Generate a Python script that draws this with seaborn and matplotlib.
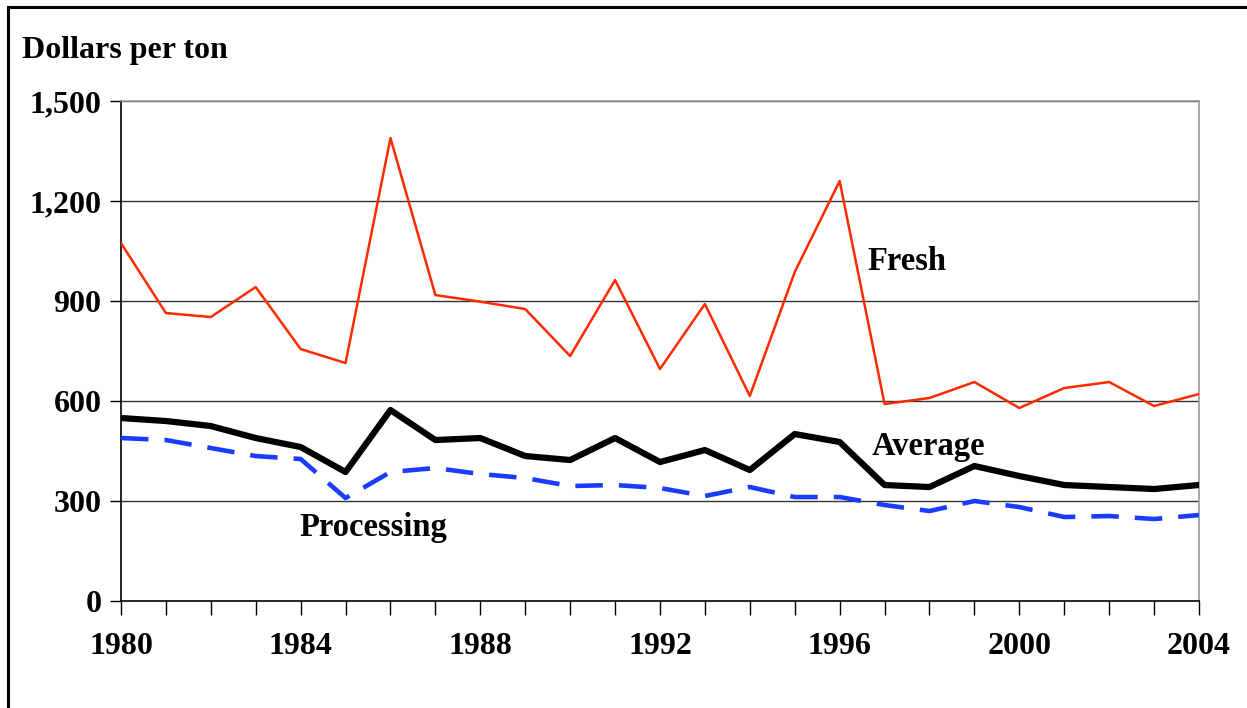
import matplotlib
matplotlib.use("Agg")
import matplotlib.pyplot as plt
import matplotlib.patches as mpatches
import pandas as pd
import seaborn as sb

years = list(range(1980, 2005))
fresh = [1074, 864, 852, 942, 756, 714, 1389, 918, 898, 876, 735, 963, 696, 891,
         615, 987, 1260, 591, 609, 657, 579, 639, 657, 585, 621]
average = [549, 540, 525, 489, 462, 387, 573, 483, 489, 435, 423, 489, 417, 453,
           393, 501, 477, 348, 342, 405, 375, 348, 342, 336, 348]
processing = [489, 483, 459, 435, 426, 309, 387, 399, 381, 369, 345, 348, 339, 315,
              342, 312, 312, 288, 270, 300, 282, 252, 255, 246, 258]

df = pd.DataFrame({"year": years, "Fresh": fresh, "Average": average, "Processing": processing})

sb.set_style("ticks")
plt.rcParams["font.family"] = ["Liberation Serif", "DejaVu Serif"]
plt.rcParams["font.weight"] = "bold"
plt.rcParams["text.color"] = "black"
plt.rcParams["xtick.color"] = "black"
plt.rcParams["ytick.color"] = "black"

fig = plt.figure(figsize=(12.47, 7.08), dpi=100)
ax = fig.add_axes([0.097, 0.1511, 0.8645, 0.7062])

# grid lines
for v in [300, 600, 900, 1200, 1500]:
    ax.axhline(v, color="#333333", lw=1.0, zorder=1)

sb.lineplot(data=df, x="year", y="Fresh", color="#FF2A00", lw=1.8, ax=ax, zorder=3)
sb.lineplot(data=df, x="year", y="Processing", color="#1A3CFF", lw=3.3, ax=ax, zorder=3)
ax.lines[-1].set_linestyle((0, (6, 3.5)))
sb.lineplot(data=df, x="year", y="Average", color="black", lw=4.5, ax=ax, zorder=4)

ax.set_xlim(1980, 2004)
ax.set_ylim(0, 1500)
ax.set_xticks(years)
ax.set_xticklabels([str(y) if (y - 1980) % 4 == 0 else "" for y in years])
ax.set_yticks([0, 300, 600, 900, 1200, 1500])
ax.set_yticklabels(["0", "300", "600", "900", "1,200", "1,500"])
ax.tick_params(axis="x", direction="out", length=10, width=1, color="black",
               labelsize=23, pad=12, bottom=True)
ax.tick_params(axis="y", direction="out", length=8, width=1, color="black",
               labelsize=23, pad=6, left=True)
for lbl in ax.get_xticklabels() + ax.get_yticklabels():
    lbl.set_fontweight("bold")
    lbl.set_color("black")
ax.set_xlabel("")
ax.set_ylabel("")

for s in ["left", "bottom"]:
    ax.spines[s].set_visible(True)
    ax.spines[s].set_color("black")
    ax.spines[s].set_linewidth(1.2)
for s in ["top", "right"]:
    ax.spines[s].set_visible(True)
    ax.spines[s].set_color("#999999")
    ax.spines[s].set_linewidth(1.2)

ax.text(1996.63, 1020, "Fresh", fontsize=23.5, fontweight="bold", va="center", ha="left")
ax.text(1996.72, 463, "Average", fontsize=23.5, fontweight="bold", va="center", ha="left")
ax.text(1983.98, 220, "Processing", fontsize=23.5, fontweight="bold", va="center", ha="left")

fig.text(0.018, 0.928, "Dollars per ton", fontsize=23, fontweight="bold", va="center", ha="left")

# outer frame of the figure
fig.patches.append(mpatches.Rectangle((0.0064, -0.1), 1.2, 1.09, transform=fig.transFigure,
                                      fill=False, edgecolor="black", lw=2.2))

fig.savefig("out.png", dpi=100)
